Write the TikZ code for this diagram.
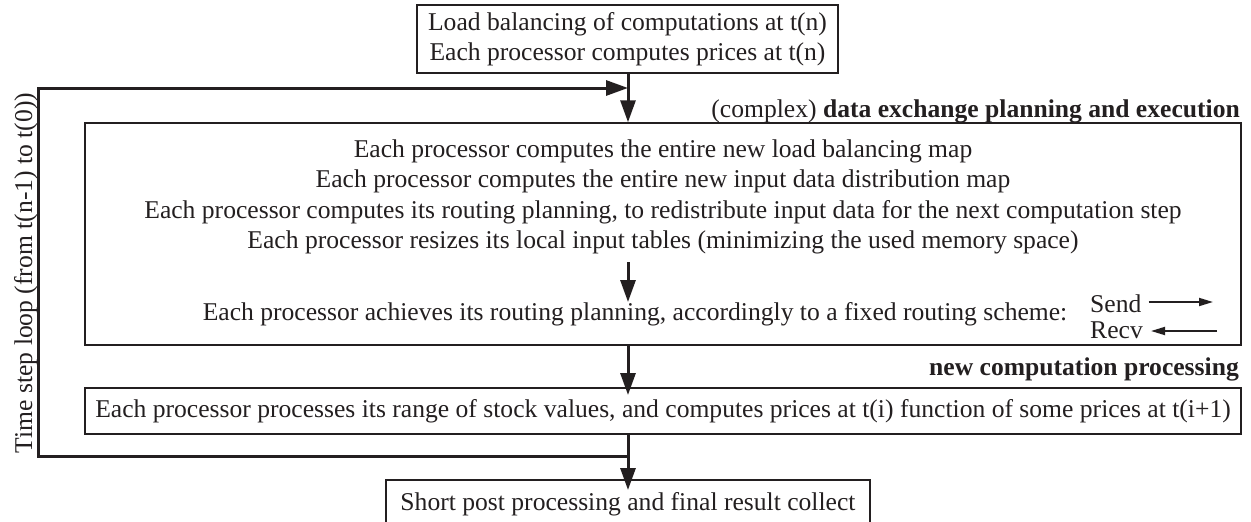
\documentclass[tikz,border=0pt]{standalone}
\usepackage{fontspec}
\setmainfont{Liberation Serif}
\usetikzlibrary{arrows.meta}
\definecolor{ink}{RGB}{35,31,32}
\begin{document}
\begin{tikzpicture}[x=1pt,y=-1pt,
  txt/.style={font=\fontsize{25.6}{30}\selectfont, text=ink, inner sep=0pt},
  box/.style={draw=ink, line width=1.5pt, inner sep=0pt, txt},
  arr/.style={draw=ink, line width=3pt, line join=miter, -{Triangle[length=22pt,width=15pt]}},
  thinarr/.style={draw=ink, line width=1.8pt, -{Triangle[length=14pt,width=8pt]}},
]
\clip (0,0) rectangle (1251,522);

% boxes
\node[box, minimum width=421pt, minimum height=68pt, align=center] (top) at (627.5,39)
  {Load balancing of computations at t(n)\\Each processor computes prices at t(n)};
\node[box, minimum width=1156pt, minimum height=222pt] (big) at (663,234) {};
\node[box, minimum width=1156pt, minimum height=46pt] (proc) at (663,411)
  {Each processor processes its range of stock values, and computes prices at t(i) function of some prices at t(i+1)};
\node[box, minimum width=484pt, minimum height=48pt] (final) at (628,504)
  {Short post processing and final result collect};

% labels
\node[txt, anchor=base east] (lab1) at (1240,117) {(complex) \textbf{data exchange planning and execution}};
\node[txt, anchor=base east] (lab2) at (1239,375) {\textbf{new computation processing}};
\node[txt, rotate=90, anchor=base] (loopl) at (32,273) {Time step loop (from t(n-1) to t(0))};

% big box content
\node[txt, anchor=base] (l1) at (663,157) {Each processor computes the entire new load balancing map};
\node[txt, anchor=base] (l2) at (663,187) {Each processor computes the entire new input data distribution map};
\node[txt, anchor=base] (l3) at (663,218) {Each processor computes its routing planning, to redistribute input data for the next computation step};
\node[txt, anchor=base] (l4) at (663,248) {Each processor resizes its local input tables (minimizing the used memory space)};
\node[txt, anchor=base] (l5) at (635,320) {Each processor achieves its routing planning, accordingly to a fixed routing scheme:};
\node[txt, anchor=base west] (send) at (1090,312) {Send};
\node[txt, anchor=base west] (recv) at (1090,338) {Recv};

% coordinates
\coordinate (jt) at (628,88);
\coordinate (jb) at (628,456);
\coordinate (lt) at (38,88);
\coordinate (lb) at (38,456);
\coordinate (a1) at (628,262);
\coordinate (a2) at (628,302);
\coordinate (pin) at (628,395);
\coordinate (fin) at (628,490);
\coordinate (s2) at (1213,302);
\coordinate (r1) at (1217,331);

% loop
\draw[arr] (jb) -- (lb) -- (lt) -- (jt);

% vertical arrows
\draw[arr] (top.south -| jt) -- (big.north -| jt);
\draw[arr] (a1) -- (a2);
\draw[arr] (big.south -| jt) -- (pin);
\draw[arr] (proc.south -| jt) -- (fin);

% send / recv
\draw[thinarr] ([xshift=7pt]send.east |- s2) -- (s2);
\draw[thinarr] (r1) -- ([xshift=8pt]recv.east |- r1);
\end{tikzpicture}
\end{document}
